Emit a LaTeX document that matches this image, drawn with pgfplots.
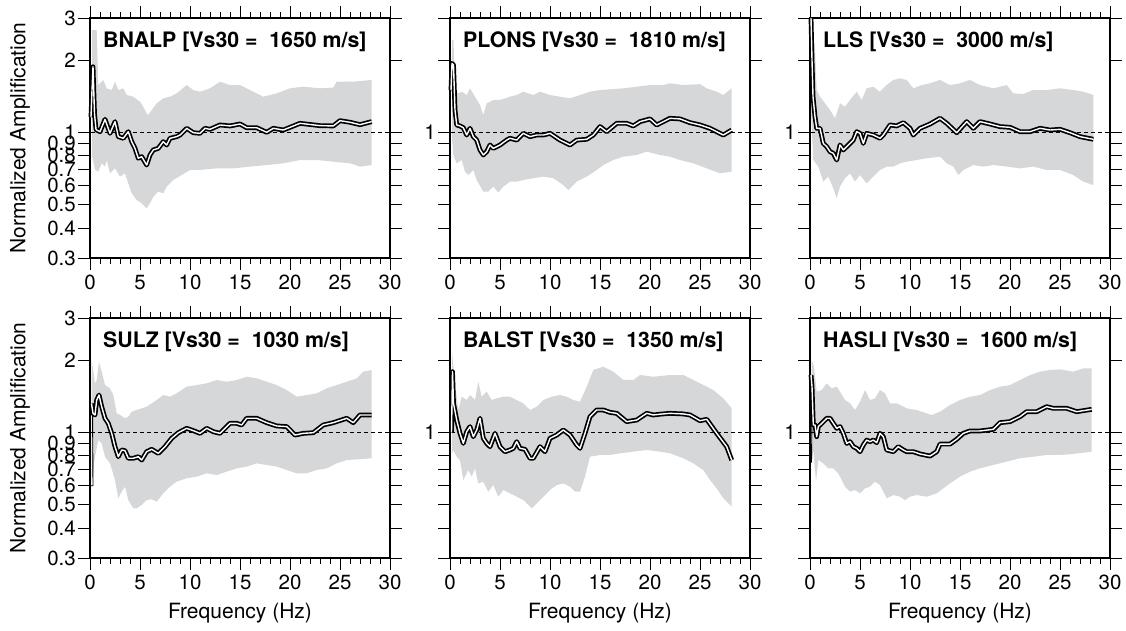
\documentclass[border=0pt]{standalone}
\usepackage{fontspec}
\setmainfont{TeX Gyre Heros}
\usepackage{pgfplots}
\pgfplotsset{compat=1.18}
\usepgfplotslibrary{fillbetween}
\definecolor{band}{RGB}{214,215,217}
\pgfplotsset{
  every axis/.append style={
    width=300pt, height=240pt, scale only axis, anchor=south west,
    xmin=0, xmax=30, ymin=0.3, ymax=3,
    xtick={0,5,...,30}, minor x tick num=4,
    ytick={0.3,0.4,0.5,0.6,0.7,0.8,0.9,1,2,3},
    tick align=outside, major tick length=12pt, minor tick length=6pt,
    axis line style={line width=2.6pt},
    tick style={line width=0.9pt, black},
    clip=false,
    /pgf/number format/assume math mode=true,
    ticklabel style={font=\fontsize{20.5}{20.5}\selectfont, inner sep=2pt},
    xticklabel shift=3pt,
    label style={font=\fontsize{21}{21}\selectfont},
    ylabel style={at={(axis description cs:-0.233,0.5)}, anchor=center},
    xlabel style={at={(axis description cs:0.5,-0.228)}, anchor=center},
  },
  leftlabels/.style={yticklabels={0.3,0.4,0.5,0.6,0.7,0.8,0.9,1,2,3}, ylabel={Normalized Amplification}},
  otherlabels/.style={yticklabels={,,,,,,,1,,}},
}
\tikzset{
  meanline/.style={draw=black, double=white, double distance=1.4pt, line width=1.7pt, line join=round},
  refline/.style={black, line width=0.8pt, dash pattern=on 4pt off 3pt},
}
\newcommand{\paneltitle}[1]{\node[anchor=base west, inner sep=0pt, font=\fontsize{21.3}{21.3}\selectfont\bfseries] at (axis description cs:0.0433,0.879) {#1};}
\begin{document}
\begin{tikzpicture}

% ---------------- BNALP ----------------
\begin{axis}[ymode=log, leftlabels, at={(90pt,373pt)}]
\addplot[name path=U, draw=none] coordinates {(0.2,2.67)(0.67,2.67)(0.83,1.577)(1.33,1.655)(1.67,1.528)(2.17,1.503)(2.5,1.628)(2.83,1.503)(3.33,1.528)(3.67,1.433)(4.33,1.410)(5.0,1.344)(5.33,1.281)(5.67,1.202)(5.83,1.183)(6.17,1.241)(6.67,1.323)(7.33,1.388)(8.0,1.410)(8.67,1.456)(9.67,1.577)(10.33,1.503)(11.0,1.479)(12.0,1.528)(13.0,1.628)(14.0,1.577)(15.0,1.577)(16.0,1.503)(17.33,1.410)(18.67,1.456)(20.0,1.528)(21.33,1.552)(23.0,1.528)(24.33,1.540)(24.67,1.628)(26.33,1.628)(28.17,1.655)};
\addplot[name path=L, draw=none] coordinates {(0.2,0.80)(0.5,0.70)(0.83,0.687)(1.17,0.744)(1.5,0.721)(1.67,0.768)(2.0,0.676)(2.5,0.709)(3.0,0.655)(3.5,0.676)(3.83,0.614)(4.17,0.558)(4.67,0.523)(5.17,0.507)(5.67,0.483)(6.0,0.507)(6.33,0.540)(6.83,0.567)(7.33,0.558)(7.67,0.595)(8.33,0.634)(9.17,0.665)(10.0,0.698)(11.0,0.698)(12.67,0.709)(14.33,0.709)(16.0,0.721)(17.67,0.732)(19.33,0.744)(21.0,0.768)(22.67,0.768)(24.33,0.756)(26.0,0.744)(27.0,0.721)(28.17,0.732)};
\addplot[band, draw=none] fill between[of=U and L];
\addplot[refline] coordinates {(-0.6,1)(31,1)};
\addplot[meanline] coordinates {(0.1,1.16)(0.2,1.5)(0.3,1.88)(0.45,1.2)(0.6,1.03)(0.67,1.024)(1.0,1.008)(1.5,1.135)(2.0,0.992)(2.5,1.110)(2.83,0.961)(3.33,0.946)(3.83,1.008)(4.17,0.916)(4.5,0.859)(4.83,0.781)(5.17,0.793)(5.67,0.732)(6.0,0.806)(6.33,0.846)(6.83,0.859)(7.33,0.916)(7.67,0.887)(8.0,0.946)(8.67,0.961)(9.0,0.976)(9.67,1.041)(10.33,0.998)(11.0,0.992)(11.5,1.041)(12.0,1.031)(13.0,1.075)(14.0,1.065)(15.0,1.085)(15.67,1.047)(16.67,1.047)(17.67,1.002)(18.33,1.041)(19.33,1.024)(21.0,1.092)(23.0,1.068)(24.33,1.065)(25.0,1.120)(26.0,1.103)(27.0,1.078)(28.17,1.110)};
\paneltitle{BNALP [Vs30 = \ 1650 m/s]}
\end{axis}

% ---------------- PLONS ----------------
\begin{axis}[ymode=log, otherlabels, at={(450pt,373pt)}]
\addplot[name path=U, draw=none] coordinates {(0.2,2.429)(0.35,2.429)(0.5,1.503)(0.83,1.456)(1.17,1.479)(1.67,1.433)(2.0,1.528)(2.5,1.410)(3.0,1.302)(3.33,1.183)(3.67,1.323)(4.33,1.366)(5.0,1.366)(6.0,1.410)(6.67,1.433)(7.33,1.479)(8.33,1.433)(9.0,1.479)(10.0,1.433)(11.0,1.410)(12.0,1.388)(13.0,1.433)(14.0,1.479)(15.0,1.503)(16.0,1.513)(17.33,1.528)(18.67,1.552)(20.0,1.577)(21.33,1.577)(22.0,1.603)(23.33,1.577)(25.0,1.590)(25.67,1.528)(26.67,1.479)(27.33,1.433)(28.17,1.528)};
\addplot[name path=L, draw=none] coordinates {(0.2,0.95)(0.33,0.806)(0.67,0.744)(1.17,0.768)(1.5,0.687)(1.83,0.665)(2.33,0.698)(2.67,0.634)(3.33,0.567)(3.83,0.567)(4.33,0.595)(4.83,0.562)(5.33,0.595)(6.0,0.624)(6.67,0.624)(7.33,0.634)(8.33,0.645)(9.33,0.655)(10.33,0.645)(11.33,0.604)(11.83,0.576)(12.67,0.624)(13.67,0.655)(14.67,0.698)(15.33,0.732)(16.33,0.768)(17.33,0.793)(18.67,0.806)(19.67,0.832)(21.0,0.806)(22.0,0.793)(23.0,0.768)(24.33,0.744)(25.67,0.709)(27.0,0.676)(28.17,0.687)};
\addplot[band, draw=none] fill between[of=U and L];
\addplot[refline] coordinates {(-0.6,1)(31,1)};
\addplot[meanline] coordinates {(0.1,1.5)(0.2,1.942)(0.35,1.911)(0.5,1.241)(0.67,1.075)(1.0,1.065)(1.33,1.047)(1.67,0.976)(2.0,1.041)(2.33,0.961)(2.67,0.930)(3.0,0.846)(3.33,0.806)(3.67,0.832)(4.0,0.887)(4.33,0.859)(5.0,0.887)(5.67,0.930)(6.0,0.946)(6.67,0.930)(7.33,0.992)(8.0,0.961)(8.67,0.976)(9.33,0.976)(10.0,0.992)(11.0,0.930)(12.0,0.887)(12.67,0.930)(13.67,0.937)(14.33,0.976)(15.0,1.058)(15.67,1.008)(16.67,1.092)(17.67,1.092)(18.33,1.065)(19.0,1.110)(20.0,1.139)(20.67,1.075)(22.0,1.146)(23.0,1.139)(24.0,1.099)(25.0,1.075)(26.0,1.041)(27.33,0.976)(28.17,1.024)};
\paneltitle{PLONS [Vs30 = \ 1810 m/s]}
\end{axis}

% ---------------- LLS ----------------
\begin{axis}[ymode=log, otherlabels, at={(810pt,373pt)}]
\addplot[name path=U, draw=none] coordinates {(0.1,3.0)(0.5,2.207)(0.67,1.503)(1.0,1.410)(1.5,1.323)(2.0,1.241)(2.5,1.146)(3.0,1.323)(3.5,1.281)(4.0,1.366)(4.67,1.479)(5.17,1.366)(5.67,1.528)(6.33,1.552)(7.0,1.479)(7.67,1.577)(8.33,1.655)(9.0,1.681)(9.67,1.655)(10.33,1.528)(11.17,1.577)(12.0,1.603)(13.0,1.655)(14.0,1.577)(15.0,1.603)(16.0,1.655)(17.0,1.577)(18.33,1.528)(19.67,1.577)(20.33,1.456)(21.33,1.447)(22.33,1.503)(23.67,1.503)(25.0,1.528)(26.33,1.503)(27.33,1.479)(28.33,1.433)};
\addplot[name path=L, draw=none] coordinates {(0.1,1.2)(0.33,0.768)(0.83,0.721)(1.33,0.624)(1.83,0.655)(2.33,0.585)(2.67,0.532)(3.0,0.595)(3.5,0.645)(4.0,0.676)(4.5,0.624)(5.0,0.665)(5.67,0.614)(6.33,0.655)(7.0,0.698)(7.67,0.721)(8.33,0.721)(9.0,0.744)(9.67,0.756)(10.67,0.768)(11.67,0.781)(13.0,0.793)(13.67,0.744)(14.33,0.721)(14.83,0.665)(15.33,0.698)(16.33,0.732)(17.33,0.721)(18.33,0.732)(19.67,0.721)(21.0,0.709)(22.33,0.721)(23.67,0.698)(25.0,0.698)(26.33,0.665)(27.33,0.624)(28.33,0.604)};
\addplot[band, draw=none] fill between[of=U and L];
\addplot[refline] coordinates {(-0.6,1)(31,1)};
\addplot[meanline] coordinates {(0.1,3.0)(0.2,2.0)(0.3,1.410)(0.5,1.164)(0.67,1.041)(1.0,1.041)(1.33,0.901)(1.67,0.873)(2.0,0.832)(2.33,0.819)(2.67,0.768)(3.0,0.887)(3.33,0.846)(3.67,0.873)(4.33,0.930)(4.67,1.008)(5.0,0.992)(5.33,0.901)(5.67,0.992)(6.33,0.976)(7.0,0.946)(7.33,0.976)(8.0,1.075)(8.67,1.065)(9.33,1.099)(10.0,1.041)(10.33,0.976)(11.0,1.041)(12.0,1.085)(13.0,1.146)(13.67,1.092)(14.67,0.998)(15.67,1.110)(16.33,1.041)(17.0,1.110)(18.0,1.085)(19.0,1.058)(20.0,1.051)(21.0,1.008)(22.0,1.008)(23.0,1.041)(24.0,1.024)(25.0,1.031)(26.0,0.998)(27.0,0.961)(28.33,0.937)};
\paneltitle{LLS [Vs30 = \ 3000 m/s]}
\end{axis}

% ---------------- SULZ ----------------
\begin{axis}[ymode=log, leftlabels, xlabel={Frequency (Hz)}, at={(90pt,73pt)}]
\addplot[name path=U, draw=none] coordinates {(0.17,2.005)(0.5,1.603)(0.67,1.655)(0.9,1.973)(1.17,1.793)(1.5,1.577)(2.0,1.528)(2.33,1.433)(2.67,1.202)(3.0,1.183)(3.5,1.146)(3.83,1.164)(4.17,1.221)(4.67,1.241)(5.17,1.261)(5.67,1.281)(6.17,1.323)(6.67,1.366)(7.33,1.433)(8.0,1.410)(8.67,1.456)(9.67,1.552)(10.67,1.577)(11.67,1.603)(12.67,1.655)(13.67,1.628)(14.67,1.655)(15.67,1.708)(16.67,1.681)(17.67,1.628)(18.67,1.577)(19.67,1.503)(20.67,1.410)(21.67,1.433)(22.67,1.456)(23.67,1.528)(24.67,1.577)(25.67,1.628)(26.67,1.681)(27.33,1.793)(28.17,1.822)};
\addplot[name path=L, draw=none] coordinates {(0.17,0.614)(0.5,0.793)(0.83,0.930)(1.17,0.901)(1.5,0.793)(2.0,0.744)(2.5,0.634)(2.83,0.532)(3.17,0.567)(3.5,0.595)(3.83,0.523)(4.33,0.483)(4.67,0.483)(5.17,0.499)(5.67,0.523)(6.17,0.527)(6.67,0.515)(7.33,0.558)(8.0,0.595)(8.67,0.624)(9.67,0.645)(10.67,0.655)(11.67,0.676)(12.67,0.665)(13.67,0.687)(14.67,0.709)(15.67,0.721)(16.67,0.744)(17.67,0.732)(18.67,0.721)(19.67,0.698)(20.67,0.676)(21.67,0.676)(22.67,0.698)(23.67,0.709)(24.67,0.744)(25.67,0.768)(26.67,0.773)(28.17,0.781)};
\addplot[band, draw=none] fill between[of=U and L];
\addplot[refline] coordinates {(-0.6,1)(31,1)};
\addplot[black, line width=0.9pt] coordinates {(0.25,1.3)(0.3,0.6)(0.12,0.6)};
\addplot[meanline] coordinates {(0.15,1.32)(0.3,1.2)(0.5,1.183)(0.67,1.366)(0.9,1.433)(1.17,1.281)(1.5,1.146)(1.83,1.092)(2.17,0.992)(2.5,0.873)(2.83,0.793)(3.17,0.846)(3.5,0.840)(3.83,0.781)(4.33,0.781)(4.83,0.793)(5.17,0.768)(5.67,0.832)(6.17,0.851)(6.83,0.819)(7.5,0.873)(8.17,0.946)(8.83,0.998)(9.67,1.041)(10.33,1.018)(11.0,0.992)(11.67,1.041)(12.33,1.008)(13.0,0.992)(14.0,1.092)(14.67,1.092)(15.17,1.075)(15.67,1.146)(16.67,1.146)(17.67,1.099)(18.67,1.065)(19.67,1.058)(20.5,0.976)(21.33,0.992)(22.33,0.998)(23.33,1.075)(24.33,1.099)(25.67,1.146)(26.33,1.099)(27.0,1.183)(28.17,1.183)};
\paneltitle{SULZ [Vs30 = \ 1030 m/s]}
\end{axis}

% ---------------- BALST ----------------
\begin{axis}[ymode=log, otherlabels, xlabel={Frequency (Hz)}, at={(450pt,73pt)}]
\addplot[name path=U, draw=none] coordinates {(0.2,2.172)(0.5,1.603)(0.83,1.241)(1.17,1.410)(1.67,1.366)(2.0,1.433)(2.5,1.366)(2.83,1.628)(3.17,1.410)(3.67,1.479)(4.17,1.366)(4.67,1.388)(5.33,1.410)(6.0,1.410)(6.67,1.366)(7.33,1.323)(8.0,1.241)(8.67,1.281)(9.33,1.366)(10.17,1.410)(11.0,1.433)(11.67,1.410)(12.33,1.366)(13.0,1.344)(13.67,1.552)(14.33,1.822)(15.33,1.880)(16.33,1.793)(17.33,1.655)(18.33,1.655)(19.0,1.736)(20.33,1.708)(22.0,1.736)(23.33,1.736)(24.33,1.655)(25.33,1.577)(26.33,1.503)(27.33,1.388)(28.17,1.261)};
\addplot[name path=L, draw=none] coordinates {(0.2,0.82)(0.33,0.846)(0.67,0.793)(1.0,0.768)(1.33,0.634)(1.83,0.698)(2.17,0.655)(2.5,0.709)(2.83,0.614)(3.33,0.624)(3.83,0.567)(4.33,0.604)(4.83,0.540)(5.33,0.576)(6.0,0.558)(6.67,0.540)(7.33,0.523)(8.17,0.483)(8.67,0.507)(9.33,0.540)(10.0,0.576)(10.67,0.604)(11.33,0.614)(12.0,0.595)(12.5,0.567)(13.0,0.567)(13.5,0.655)(14.0,0.793)(15.0,0.806)(16.0,0.806)(17.0,0.819)(18.33,0.832)(19.67,0.846)(21.0,0.832)(22.0,0.819)(23.33,0.781)(24.33,0.744)(25.33,0.698)(26.0,0.634)(26.67,0.585)(27.33,0.532)(28.17,0.491)};
\addplot[band, draw=none] fill between[of=U and L];
\addplot[refline] coordinates {(-0.6,1)(31,1)};
\addplot[meanline] coordinates {(0.15,1.0)(0.25,1.793)(0.35,1.323)(0.67,1.127)(1.0,0.992)(1.33,0.901)(1.67,1.008)(2.0,1.058)(2.33,0.961)(2.67,1.024)(3.0,1.146)(3.33,0.946)(3.67,0.901)(4.0,0.873)(4.5,0.992)(5.0,0.873)(5.5,0.832)(6.0,0.846)(6.33,0.859)(6.67,0.916)(7.0,0.859)(7.5,0.851)(8.0,0.781)(8.33,0.781)(9.0,0.873)(9.5,0.832)(10.0,0.946)(10.67,0.976)(11.33,1.024)(12.0,0.976)(12.67,0.887)(13.0,0.859)(13.5,0.992)(14.0,1.164)(14.67,1.241)(15.33,1.241)(16.0,1.213)(16.67,1.202)(17.67,1.110)(18.67,1.127)(19.67,1.202)(20.33,1.183)(21.0,1.192)(22.0,1.202)(23.33,1.195)(24.0,1.183)(25.0,1.120)(25.67,1.135)(26.67,0.992)(27.67,0.873)(28.17,0.768)};
\paneltitle{BALST [Vs30 = \ 1350 m/s]}
\end{axis}

% ---------------- HASLI ----------------
\begin{axis}[ymode=log, otherlabels, xlabel={Frequency (Hz)}, at={(810pt,73pt)}]
\addplot[name path=U, draw=none] coordinates {(0.17,2.005)(0.4,1.880)(0.67,1.479)(1.17,1.503)(1.67,1.603)(2.17,1.528)(2.67,1.552)(3.0,1.479)(3.5,1.366)(4.0,1.323)(4.5,1.241)(5.0,1.344)(5.5,1.503)(6.0,1.366)(6.5,1.388)(7.0,1.503)(7.5,1.456)(8.0,1.323)(8.67,1.323)(9.67,1.261)(10.67,1.241)(11.67,1.202)(12.17,1.183)(13.0,1.221)(14.0,1.302)(15.0,1.366)(16.0,1.410)(17.0,1.433)(18.0,1.503)(19.0,1.552)(20.0,1.577)(21.0,1.655)(22.0,1.736)(23.0,1.793)(24.0,1.822)(25.0,1.833)(26.33,1.793)(27.33,1.851)(28.17,1.851)};
\addplot[name path=L, draw=none] coordinates {(0.17,0.768)(0.33,0.846)(0.6,0.624)(0.83,0.768)(1.33,0.744)(1.83,0.709)(2.33,0.709)(2.83,0.676)(3.5,0.595)(4.0,0.567)(4.5,0.576)(5.0,0.558)(5.5,0.585)(6.0,0.595)(6.5,0.624)(7.0,0.604)(7.67,0.532)(8.33,0.549)(9.0,0.540)(9.5,0.523)(10.0,0.540)(10.67,0.549)(11.67,0.540)(12.67,0.558)(13.33,0.585)(14.0,0.614)(15.0,0.655)(16.0,0.687)(17.0,0.709)(18.33,0.732)(19.67,0.756)(21.0,0.781)(22.33,0.793)(23.67,0.806)(25.0,0.806)(26.33,0.814)(27.33,0.824)(28.17,0.832)};
\addplot[band, draw=none] fill between[of=U and L];
\addplot[refline] coordinates {(-0.6,1)(31,1)};
\addplot[black, line width=0.9pt] coordinates {(0.2,1.2)(0.15,0.75)};
\addplot[meanline] coordinates {(0.1,1.736)(0.2,1.552)(0.33,1.075)(0.5,1.075)(0.67,0.961)(0.83,1.058)(1.17,1.092)(1.67,1.146)(2.0,1.146)(2.33,1.092)(2.67,1.041)(3.0,1.058)(3.33,0.992)(3.67,0.901)(4.0,0.916)(4.33,0.873)(4.67,0.859)(5.0,0.832)(5.33,0.887)(5.67,0.930)(6.0,0.916)(6.33,0.930)(6.67,0.907)(7.0,0.992)(7.33,0.961)(7.67,0.846)(8.33,0.832)(8.83,0.873)(9.33,0.846)(9.67,0.832)(10.33,0.832)(11.0,0.814)(12.0,0.798)(12.67,0.832)(13.0,0.895)(14.0,0.895)(14.67,0.937)(15.33,0.992)(16.0,1.015)(17.0,1.015)(18.33,1.031)(19.0,1.099)(20.0,1.110)(21.0,1.164)(21.67,1.221)(22.67,1.221)(23.67,1.281)(24.33,1.261)(25.67,1.261)(26.67,1.221)(28.17,1.249)};
\paneltitle{HASLI [Vs30 = \ 1600 m/s]}
\end{axis}
\pgfresetboundingbox
\path (0,0) rectangle (1126pt,631pt);
\end{tikzpicture}
\end{document}
